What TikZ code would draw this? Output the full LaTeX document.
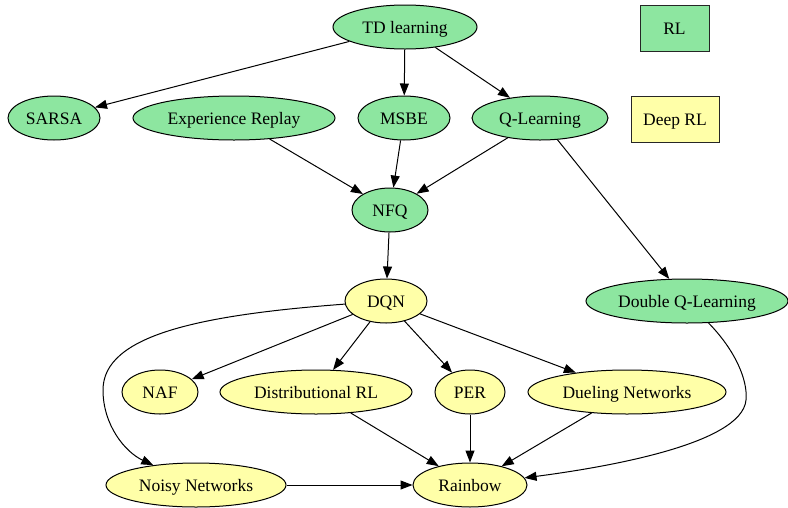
\documentclass[tikz,border=0pt]{standalone}
\usepackage{fontspec}
\setmainfont{Liberation Serif}
\usetikzlibrary{shapes.geometric,arrows.meta}
\definecolor{rlgreen}{HTML}{8DE6A0}
\definecolor{deepyellow}{HTML}{FFFFA8}
\tikzset{
  labeltext/.style={font=\fontsize{17.5}{20}\selectfont, text height=13pt, text depth=1pt},
  base/.style={ellipse, draw=black, line width=1pt, inner sep=0pt,
    minimum height=44pt, labeltext},
  rlnode/.style={base, fill=rlgreen},
  deepnode/.style={base, fill=deepyellow},
  legendbox/.style={rectangle, draw=black!85, line width=1pt, inner sep=0pt,
    minimum height=46pt, labeltext},
  edge/.style={draw=black, line width=1pt, -{Triangle[length=12pt,width=9pt]}}
}
\begin{document}
\begin{tikzpicture}[x=1pt,y=-1pt]
\useasboundingbox (0,0) rectangle (788,507);

% RL family
\node[rlnode, minimum width=144pt] (td)    at (405,27)  {TD learning};
\node[rlnode, minimum width=92pt]  (sarsa) at (54,118)  {SARSA};
\node[rlnode, minimum width=202pt] (er)    at (234,118) {Experience Replay};
\node[rlnode, minimum width=92pt]  (msbe)  at (404,118) {MSBE};
\node[rlnode, minimum width=136pt] (ql)    at (540,118) {Q-Learning};
\node[rlnode, minimum width=76pt]  (nfq)   at (390,210) {NFQ};
\node[rlnode, minimum width=202pt] (dql)   at (687,301) {Double Q-Learning};

% Deep RL family
\node[deepnode, minimum width=82pt]  (dqn)   at (386,301) {DQN};
\node[deepnode, minimum width=76pt]  (naf)   at (160,392) {NAF};
\node[deepnode, minimum width=192pt] (dist)  at (316,392) {Distributional RL};
\node[deepnode, minimum width=70pt]  (per)   at (470,392) {PER};
\node[deepnode, minimum width=198pt] (duel)  at (627,392) {Dueling Networks};
\node[deepnode, minimum width=180pt] (noisy) at (196,485) {Noisy Networks};
\node[deepnode, minimum width=114pt] (rain)  at (470,485) {Rainbow};

% legend
\node[legendbox, fill=rlgreen, minimum width=69pt]    (lrl)   at (674.5,28) {RL};
\node[legendbox, fill=deepyellow, minimum width=88pt] (ldeep) at (675,119)  {Deep RL};

% connectors
\draw[edge] (td) -- (sarsa);
\draw[edge] (td) -- (msbe);
\draw[edge] (td) -- (ql);
\draw[edge] (er) -- (nfq);
\draw[edge] (msbe) -- (nfq);
\draw[edge] (ql) -- (nfq);
\draw[edge] (ql) -- (dql);
\draw[edge] (nfq) -- (dqn);
\draw[edge] (dqn) -- (naf);
\draw[edge] (dqn) -- (dist);
\draw[edge] (dqn) -- (per);
\draw[edge] (dqn) -- (duel);
\draw[edge] (dqn) .. controls (200,315) and (103,335) .. (103,390)
                  .. controls (103,425) and (125,452) .. (noisy);
\draw[edge] (dist) -- (rain);
\draw[edge] (per) -- (rain);
\draw[edge] (duel) -- (rain);
\draw[edge] (noisy) -- (rain);
\draw[edge] (dql) .. controls (735,350) and (748,380) .. (746,400)
                  .. controls (742,445) and (600,468) .. (rain);
\end{tikzpicture}
\end{document}
